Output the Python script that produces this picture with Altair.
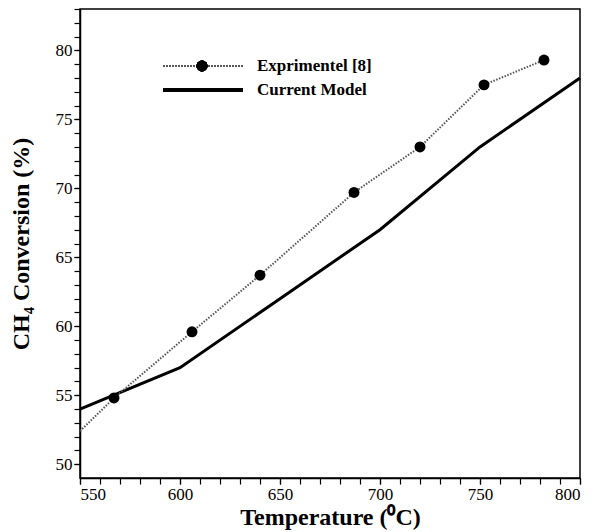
import altair as alt
import pandas as pd

# Experimental methane conversion (reference [8])
exp_temp = [567, 606, 640, 687, 720, 752, 782]
exp_conv = [54.8, 59.6, 63.7, 69.7, 73.0, 77.5, 79.3]
# the dotted guide line starts at the left edge of the axis
exp_line_temp = [550, 567, 606, 640, 687, 720, 752, 782]
exp_line_conv = [52.4, 54.8, 59.6, 63.7, 69.7, 73.0, 77.5, 79.3]

# Current model prediction
model_temp = [550, 600, 650, 700, 750, 800]
model_conv = [54.0, 57.0, 62.0, 67.0, 73.0, 78.0]

x_major = [550, 600, 650, 700, 750, 800]
y_major = [50, 55, 60, 65, 70, 75, 80]
x_minor = list(range(550, 801, 10))
y_minor = list(range(50, 84, 1))

SERIF = "Liberation Serif"

exp_df = pd.DataFrame({"T": exp_temp, "C": exp_conv})
exp_line_df = pd.DataFrame({"T": exp_line_temp, "C": exp_line_conv})
model_df = pd.DataFrame({"T": model_temp, "C": model_conv})

x_scale = alt.Scale(domain=[550, 800], nice=False, zero=False)
y_scale = alt.Scale(domain=[49, 83], nice=False, zero=False)

common = dict(
    grid=False,
    tickSize=6,
    labelPadding=2,
    labelFontSize=17,
    labelFont=SERIF,
    labelColor="black",
    titleFont=SERIF,
    titleFontSize=24,
    titleFontWeight="bold",
    titleColor="black",
    domainColor="black",
    tickColor="black",
    domainWidth=1.5,
    tickWidth=1.2,
)

x_axis = alt.Axis(values=x_major, title="Temperature (\u2070C)", titlePadding=3,
                  orient="bottom", **common)
y_axis = alt.Axis(values=y_major, title="CH\u2084 Conversion (%)", titlePadding=22,
                  orient="left", **common)

# minor ticks: label-free axes sharing the same scales
x_minor_axis = alt.Axis(values=x_minor, labels=False, title=None, domain=False, grid=False,
                        tickSize=6, tickColor="black", tickWidth=1.2, orient="bottom")
y_minor_axis = alt.Axis(values=y_minor, labels=False, title=None, domain=False, grid=False,
                        tickSize=6, tickColor="black", tickWidth=1.2, orient="left")

model_line = alt.Chart(model_df).mark_line(color="black", strokeWidth=3).encode(
    x=alt.X("T:Q", scale=x_scale, axis=x_axis),
    y=alt.Y("C:Q", scale=y_scale, axis=y_axis),
)

minor_ticks = alt.Chart(model_df).mark_line(opacity=0).encode(
    x=alt.X("T:Q", scale=x_scale, axis=x_minor_axis),
    y=alt.Y("C:Q", scale=y_scale, axis=y_minor_axis),
)

exp_line = alt.Chart(exp_line_df).mark_line(
    color="#555555", strokeWidth=2, strokeDash=[1.5, 1.5]
).encode(x="T:Q", y="C:Q")

exp_points = alt.Chart(exp_df).mark_point(
    filled=True, color="black", size=120, opacity=1, shape="circle"
).encode(x="T:Q", y="C:Q")

# Legend drawn inside the plot area
legend_exp_line = alt.Chart(exp_df).mark_rule(
    color="#555555", strokeWidth=2, strokeDash=[1.5, 1.5]
).encode(x=alt.value(83), x2=alt.value(163), y=alt.value(57))
legend_exp_dot = alt.Chart(exp_df).mark_point(
    filled=True, color="black", size=120, opacity=1, shape="circle"
).encode(x=alt.value(122), y=alt.value(57))
legend_model_line = alt.Chart(model_df).mark_rule(
    color="black", strokeWidth=3
).encode(x=alt.value(83), x2=alt.value(163), y=alt.value(81))

legend_labels = pd.DataFrame({"label": ["Exprimentel [8]", "Current Model"]})
legend_text_exp = alt.Chart(legend_labels.iloc[[0]]).mark_text(
    align="left", baseline="middle", font=SERIF, fontSize=17, fontWeight="bold", color="black"
).encode(x=alt.value(177), y=alt.value(57), text="label:N")
legend_text_model = alt.Chart(legend_labels.iloc[[1]]).mark_text(
    align="left", baseline="middle", font=SERIF, fontSize=17, fontWeight="bold", color="black"
).encode(x=alt.value(177), y=alt.value(81), text="label:N")

main = alt.layer(
    model_line,
    exp_line,
    exp_points,
    legend_exp_line,
    legend_exp_dot,
    legend_model_line,
    legend_text_exp,
    legend_text_model,
)

chart = alt.layer(main, minor_ticks).resolve_axis(
    x="independent", y="independent"
).properties(
    width=500,
    height=469,
    autosize=alt.AutoSizeParams(type="none"),
    padding={"left": 80, "top": 9, "right": 14, "bottom": 54},
    background="white",
).configure_view(
    stroke="black", strokeWidth=1.5
)

chart.save("out.html", embed_options={"renderer": "svg", "actions": False})
